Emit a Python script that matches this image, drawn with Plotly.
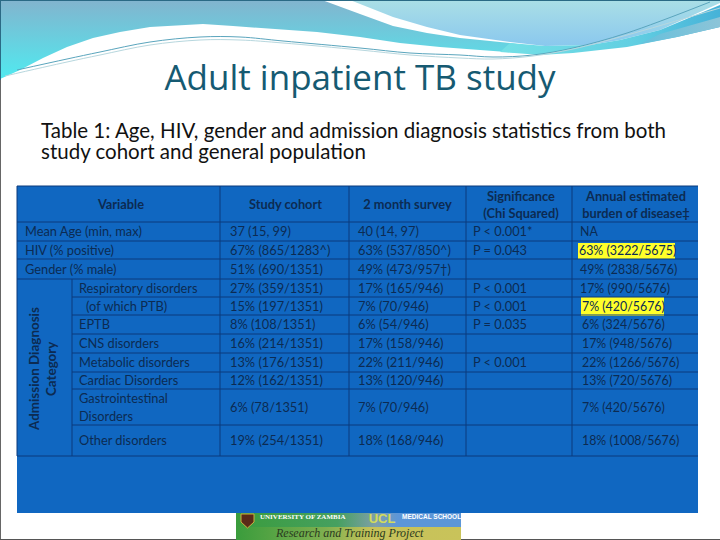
import plotly.graph_objects as go

title = 'Adult inpatient TB study'
subtitle = ['Table 1: Age, HIV, gender and admission diagnosis statistics from both',
            'study cohort and general population']

variables = ['Mean Age (min, max)', 'HIV (% positive)', 'Gender (% male)']
disorders = ['Respiratory disorders', '(of which PTB)', 'EPTB', 'CNS disorders', 'Metabolic disorders',
             'Cardiac Disorders', 'Gastrointestinal', 'Disorders', 'Other disorders']
cohort = ['37 (15, 99)', '67% (865/1283^)', '51% (690/1351)', '27% (359/1351)', '15% (197/1351)',
          '8% (108/1351)', '16% (214/1351)', '13% (176/1351)', '12% (162/1351)', '6% (78/1351)',
          '19% (254/1351)']
survey = ['40 (14, 97)', '63% (537/850^)', '49% (473/957†)', '17% (165/946)', '7% (70/946)',
          '6% (54/946)', '17% (158/946)', '22% (211/946)', '13% (120/946)', '7% (70/946)',
          '18% (168/946)']
significance = ['P < 0.001*', 'P = 0.043', '', 'P < 0.001', 'P < 0.001', 'P = 0.035', '', 'P < 0.001',
                '', '', '']
burden = ['NA', '63% (3222/5675)', '49% (2838/5676)', '17% (990/5676)', '7% (420/5676)',
          '6% (324/5676)', '17% (948/5676)', '22% (1266/5676)', '13% (720/5676)', '7% (420/5676)',
          '18% (1008/5676)']

# layout of the slide, in page pixels
col_edges = [17, 72, 220, 349, 466, 572, 698]
row_edges = [222, 241, 259, 279, 297, 315, 334, 353, 372, 389, 425, 456]
table_top, table_bottom = 186, 513
# text sits a little under the middle of its row
row_mid = [(a + b) / 2 + 1.5 for a, b in zip(row_edges, row_edges[1:])]
burden_x = [580, 579, 580, 580, 582, 582, 582, 582, 582, 582, 582]

BLUE = '#1067c1'
LINE = '#0b3a7c'
INK = '#0c2b52'
TABLE_FONT = 'Lato'
TABLE_SIZE = 12.8

fig = go.Figure()


def add_text(xs, ys, labels, color=INK, size=TABLE_SIZE, family=TABLE_FONT, pos='middle right'):
    fig.add_trace(go.Scatter(x=xs, y=ys, text=labels, mode='text', textposition=pos,
                             textfont=dict(color=color, size=size, family=family),
                             hoverinfo='skip', showlegend=False))


def add_band(points, colors, direction='horizontal'):
    xs, ys = zip(*points)
    fig.add_trace(go.Scatter(x=xs, y=ys, mode='lines', line=dict(width=0), fill='toself',
                             fillgradient=dict(type=direction, colorscale=colors),
                             hoverinfo='skip', showlegend=False))


def add_curve(points, color, width=1):
    xs, ys = zip(*points)
    fig.add_trace(go.Scatter(x=xs, y=ys, mode='lines', line=dict(color=color, width=width, shape='spline'),
                             hoverinfo='skip', showlegend=False))


# header waves
add_band([(0, 0), (322, 0), (360, 14), (393, 26), (427, 33), (460, 38), (510, 43), (545, 48), (520, 53),
          (490, 51), (440, 47), (400, 43), (360, 37), (317, 32), (267, 28), (233, 26), (203, 24), (150, 27),
          (120, 32), (93, 38), (67, 47), (43, 58), (20, 70), (0, 79)],
         [[0, '#50eaf0'], [1, '#82b4ce']], direction='vertical')
add_band([(350, 0), (720, 0), (720, 3), (660, 30), (620, 40), (590, 45), (545, 46), (510, 42), (460, 35),
          (427, 27), (393, 17)],
         [[0, '#8ac8ee'], [1, '#aadfe6']], direction='vertical')
add_band([(510, 43), (545, 46), (590, 45), (620, 40), (660, 30), (720, 5), (720, 27), (677, 37), (627, 47),
          (573, 53), (540, 55), (500, 52)],
         [[0, '#74e0e6'], [0.6, '#62cfe2'], [1, '#46b2d8']])
add_band([(720, 17), (720, 27), (677, 37), (640, 44), (660, 34)], [[0, '#66c0dc'], [1, '#8cc4d8']])
add_curve([(17, 70), (67, 59), (100, 52), (150, 42), (200, 37), (240, 37), (283, 41), (360, 48), (410, 53),
           (460, 55), (493, 57), (533, 55), (573, 48), (627, 33), (710, 2)], '#5aa5bd')
add_curve([(5, 76), (67, 62), (100, 55), (150, 45), (200, 40), (240, 40), (283, 43), (360, 50), (410, 55),
           (460, 58), (493, 59), (533, 56), (573, 49), (627, 35), (720, 8)], '#b7d7de')

add_text([360], [81], [title], color='#165a72', size=35, family='Open Sans', pos='middle center')
add_text([41, 41], [133, 154], subtitle, color='#111111', size=20.5, family='Lato')

# table body is drawn under the text traces through layout shapes
fig.add_shape(type='rect', x0=col_edges[0], x1=col_edges[-1], y0=table_top, y1=table_bottom,
              fillcolor=BLUE, line_width=0, layer='below')
fig.add_shape(type='rect', x0=578, x1=675, y0=243, y1=259, fillcolor='#ffff2a', line_width=0, layer='below')
fig.add_shape(type='rect', x0=581, x1=664, y0=297, y1=316, fillcolor='#ffff2a', line_width=0, layer='below')
for x in col_edges[2:-1]:
    fig.add_shape(type='line', x0=x, x1=x, y0=table_top, y1=row_edges[-1], line=dict(color=LINE, width=1))
fig.add_shape(type='line', x0=col_edges[1], x1=col_edges[1], y0=row_edges[3], y1=row_edges[-1],
              line=dict(color=LINE, width=1))
for i, y in enumerate(row_edges):
    left = col_edges[1] if 3 < i < len(row_edges) - 1 else col_edges[0]
    fig.add_shape(type='line', x0=left, x1=col_edges[-1], y0=y, y1=y, line=dict(color=LINE, width=1))
fig.add_shape(type='line', x0=col_edges[0], x1=col_edges[-1], y0=table_top, y1=table_top,
              line=dict(color=LINE, width=1))
fig.add_shape(type='line', x0=col_edges[0], x1=col_edges[0], y0=table_top, y1=row_edges[-1],
              line=dict(color=LINE, width=1))

# header cells
add_text([121, 285.5, 407.5], [206, 206, 206],
         ['<b>Variable</b>', '<b>Study cohort</b>', '<b>2 month survey</b>'], pos='middle center')
add_text([521, 521, 636, 636], [198, 215, 198, 215],
         ['<b>Significance</b>', '<b>(Chi Squared)</b>', '<b>Annual estimated</b>', '<b>burden of disease‡</b>'],
         pos='middle center')

add_text([25] * 3, row_mid[:3], variables)
disorder_y = row_mid[3:9] + [400, 418, row_mid[10]]
disorder_x = [79, 86, 79, 79, 79, 79, 79, 79, 79]
add_text(disorder_x, disorder_y, disorders)
add_text([230] * len(cohort), row_mid, cohort)
add_text([358] * len(survey), row_mid, survey)
add_text([473] * len(significance), row_mid, significance)
add_text(burden_x, row_mid, burden, size=12.4)

fig.add_annotation(x=34, y=369, text='<b>Admission Diagnosis</b>', textangle=-90, showarrow=False,
                   font=dict(color=INK, size=13.4, family=TABLE_FONT))
fig.add_annotation(x=51, y=369, text='<b>Category</b>', textangle=-90, showarrow=False,
                   font=dict(color=INK, size=13.4, family=TABLE_FONT))

# logo strip under the table
add_band([(236, 513), (461, 513), (461, 527), (236, 527)],
         [[0, '#3a9c3c'], [0.45, '#46a060'], [0.62, '#7f9fa8'], [0.72, '#5c96d8'], [1, '#5c96d8']])
add_band([(236, 527), (461, 527), (461, 540), (236, 540)],
         [[0, '#3a9c3c'], [0.4, '#7fb050'], [0.6, '#c6c25a'], [1, '#c9c35a']])
fig.add_shape(type='path', path='M241 514 H254 V522 L247.5 528 L241 522 Z', fillcolor='#5a2a18', line=dict(color='#c9b040', width=1))
add_text([260], [517.5], ['<b>UNIVERSITY OF ZAMBIA</b>'], color='#ffffff', size=7, family='Liberation Serif')
add_text([402], [517.5], ['<b>MEDICAL SCHOOL</b>'], color='#ffffff', size=6.5, family='Liberation Sans')
add_text([382], [520], ['<b>UCL</b>'], color='#d2dc5c', size=13, family='Liberation Sans', pos='middle center')
add_text([276], [533.5], ['<i>Research and Training Project</i>'], color='#2a3a20', size=12, family='Liberation Serif')

fig.add_shape(type='line', x0=0, x1=720, y0=0.5, y1=0.5, line=dict(color='#2a6a85', width=1))
fig.add_shape(type='line', x0=0.5, x1=0.5, y0=0, y1=80, line=dict(color='#2a6a85', width=1))
fig.add_shape(type='line', x0=0.5, x1=0.5, y0=80, y1=540, line=dict(color='#666666', width=1))
fig.add_shape(type='line', x0=0, x1=236, y0=539.5, y1=539.5, line=dict(color='#555555', width=1))
fig.add_shape(type='line', x0=461, x1=720, y0=539.5, y1=539.5, line=dict(color='#555555', width=1))

fig.update_xaxes(range=[0, 720], visible=False)
fig.update_yaxes(range=[540, 0], visible=False)
fig.update_layout(width=720, height=540, margin=dict(l=0, r=0, t=0, b=0), paper_bgcolor='white',
                  plot_bgcolor='white', showlegend=False)

fig.write_html("out.html", config={'displayModeBar': False},
               post_script="document.body.style.margin = '0';")
